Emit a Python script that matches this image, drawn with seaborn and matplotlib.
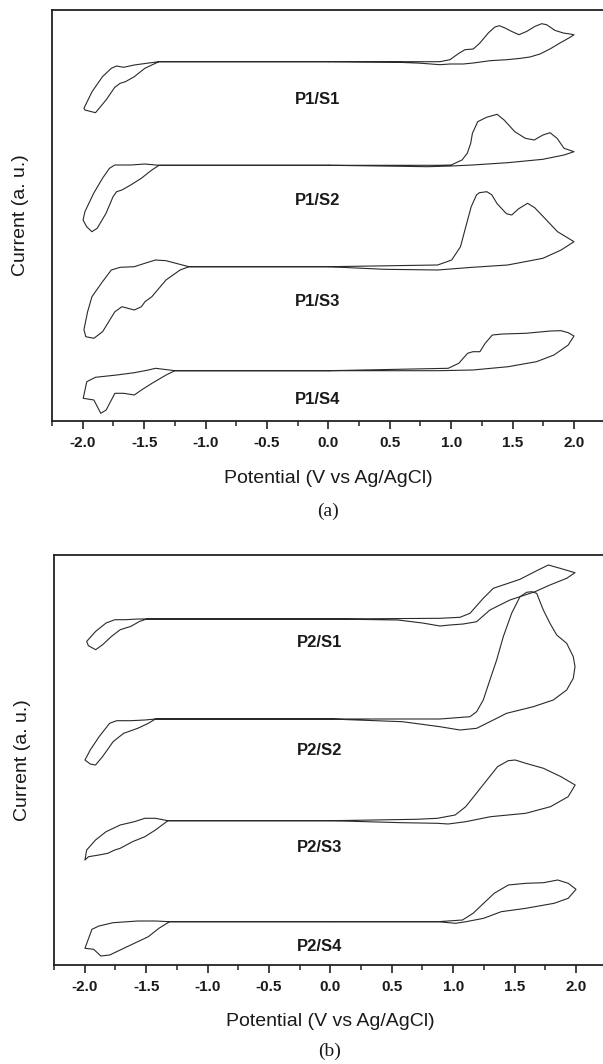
import numpy as np
import pandas as pd
import matplotlib
matplotlib.use("Agg")
import matplotlib.pyplot as plt
import seaborn as sns
from matplotlib.ticker import MultipleLocator

sns.set_theme(style="white")
plt.rcParams['font.family'] = ['Liberation Sans', 'DejaVu Sans']
plt.rcParams['axes.unicode_minus'] = False

# ---------------- data (potential in V, current in a.u. relative to each curve's baseline) ----
tick_values = [-2.0, -1.5, -1.0, -0.5, 0.0, 0.5, 1.0, 1.5, 2.0]
tick_labels = ["-2.0", "-1.5", "-1.0", "-0.5", "0.0", "0.5", "1.0", "1.5", "2.0"]

names_a = ["P1/S1", "P1/S2", "P1/S3", "P1/S4"]
names_b = ["P2/S1", "P2/S2", "P2/S3", "P2/S4"]
offsets_a = [359.3, 255.7, 154.3, 50.3]
offsets_b = [346.0, 246.0, 144.3, 43.3]

# P1/S1
p1s1_an_v = [0.0, 0.908, 0.99, 1.058, 1.112, 1.18, 1.234, 1.302, 1.356, 1.392, 1.438, 1.492, 1.552, 1.615, 1.682, 1.737, 1.777, 1.845, 1.913, 1.967, 2.0]
p1s1_an_i = [0, 0, 2, 8, 12, 12.7, 18.7, 28.7, 34.7, 36, 33.7, 30.3, 27, 30.3, 35.3, 38, 37, 31.3, 28.7, 27.7, 27]
p1s1_ca_v = [1.967, 1.886, 1.804, 1.723, 1.641, 1.56, 1.452, 1.316, 1.18, 1.098, 0.99, 0.908, 0.75, 0.55, 0.0]
p1s1_ca_i = [24.3, 18.7, 12.7, 7.7, 4.7, 3.3, 2, 1, -1.3, -2.3, -2.3, -3, -1.5, -0.5, 0]
p1s1_le_v = [-1.379, -1.48, -1.58, -1.667, -1.724, -1.767, -1.839, -1.924, -1.99, -1.982, -1.896, -1.81, -1.739, -1.695, -1.652, -1.58, -1.494, -1.408, -1.379]
p1s1_le_i = [0, -1.6, -3.3, -5.6, -4.3, -6.6, -15, -30, -46.6, -48.3, -51, -38.3, -25.6, -21.6, -20, -15, -6.6, -1.6, 0]

# P1/S2
p1s2_an_v = [0.0, 0.9, 1.0, 1.088, 1.131, 1.159, 1.173, 1.216, 1.288, 1.374, 1.431, 1.518, 1.604, 1.676, 1.747, 1.805, 1.862, 1.919, 2.0]
p1s2_an_i = [0, 0, 0.3, 5.3, 12, 22, 32, 43.6, 48, 51, 45.3, 33.6, 27, 25.3, 30.3, 32.6, 27, 17, 13.6]
p1s2_ca_v = [1.919, 1.747, 1.46, 1.173, 1.001, 0.804, 0.6, 0.0]
p1s2_ca_i = [10.3, 6, 2.6, 0.3, -0.7, -1.4, -1, 0]
p1s2_le_v = [-1.379, -1.494, -1.609, -1.739, -1.782, -1.839, -1.911, -1.982, -1.997, -1.968, -1.925, -1.882, -1.81, -1.753, -1.724, -1.681, -1.609, -1.523, -1.437, -1.379]
p1s2_le_i = [0, 1.3, 0.3, 0.3, -3, -13, -28, -46.4, -54.7, -61.4, -66.4, -63, -48, -31.4, -26.4, -24.7, -19.7, -13, -4.7, 0]

# P1/S3
p1s3_an_v = [0.0, 0.89, 1.004, 1.076, 1.119, 1.163, 1.206, 1.23, 1.29, 1.33, 1.374, 1.45, 1.493, 1.55, 1.622, 1.68, 1.75, 1.866, 2.0]
p1s3_an_i = [0, 1.7, 6.7, 20, 40, 60, 71.7, 74, 75, 72, 63, 53, 51.7, 58, 63.4, 59, 50, 35, 25]
p1s3_ca_v = [1.895, 1.747, 1.46, 1.173, 0.89, 0.456, 0.0]
p1s3_ca_i = [16.7, 8.4, 1.7, -0.6, -3.3, -2.6, 0]
p1s3_le_v = [-1.135, -1.322, -1.408, -1.494, -1.58, -1.695, -1.767, -1.839, -1.925, -1.96, -1.99, -1.975, -1.909, -1.838, -1.738, -1.68, -1.58, -1.522, -1.493, -1.437, -1.322, -1.207, -1.135]
p1s3_le_i = [0, 6, 6.7, 3.4, 0, -0.6, -3.3, -15, -30, -45, -63, -70, -71.6, -65, -45, -40, -43.3, -40, -35, -30, -13.3, -3.3, 0]

# P1/S4
p1s4_an_v = [0.0, 0.976, 1.062, 1.134, 1.177, 1.234, 1.277, 1.335, 1.421, 1.608, 1.809, 1.895, 1.953, 2.0]
p1s4_an_i = [0, 2.4, 7.4, 17.4, 19, 19, 27.4, 35.7, 36.7, 37.4, 39.7, 40, 38, 34.7]
p1s4_ca_v = [1.953, 1.837, 1.694, 1.464, 1.177, 0.89, 0.0]
p1s4_ca_i = [25.7, 15.7, 9, 4, 0.7, 0, 0]
p1s4_le_v = [-1.25, -1.293, -1.408, -1.465, -1.58, -1.723, -1.896, -1.967, -1.996, -1.909, -1.853, -1.809, -1.738, -1.666, -1.58, -1.522, -1.436, -1.321, -1.25]
p1s4_le_i = [0, 0.7, 2.4, 0.7, -2, -4.3, -6.6, -11, -27.6, -29.3, -42.6, -39.3, -22.6, -22.6, -24.3, -19.3, -12.6, -4.3, 0]

# P2/S1
p2s1_an_v = [0.0, 0.892, 1.055, 1.137, 1.245, 1.327, 1.462, 1.544, 1.68, 1.775, 1.87, 1.992]
p2s1_an_i = [0, 0.7, 1.7, 5.7, 20.7, 30.7, 36.3, 39.7, 48.3, 54, 50.7, 46.3]
p2s1_ca_v = [1.924, 1.788, 1.666, 1.462, 1.299, 1.191, 1.082, 0.974, 0.892, 0.75, 0.55, 0.0]
p2s1_ca_i = [40.7, 34, 27.3, 19, 9, -2.7, -5, -6, -7, -4, -1, 0]
p2s1_le_v = [-1.496, -1.567, -1.668, -1.754, -1.826, -1.911, -1.984, -1.97, -1.911, -1.854, -1.782, -1.711, -1.625, -1.553, -1.496]
p2s1_le_i = [0, 0, -0.7, -0.7, -4, -12.4, -22.4, -26.7, -30.7, -25.7, -17.4, -10.7, -7.4, -2.4, 0]

# P2/S2
p2s2_an_v = [0.0, 0.892, 1.137, 1.191, 1.245, 1.299, 1.354, 1.408, 1.476, 1.544, 1.598, 1.639, 1.68, 1.734, 1.788, 1.843, 1.924, 1.978, 1.992]
p2s2_an_i = [0, 0, 2.3, 7.3, 19, 39, 59, 82.3, 105.7, 122.3, 126.7, 127.3, 125.7, 109, 95.7, 84, 75.7, 62.3, 52.3]
p2s2_ca_v = [1.978, 1.924, 1.815, 1.652, 1.435, 1.327, 1.191, 1.055, 0.892, 0.587, 0.0]
p2s2_ca_i = [40.7, 29, 19, 12.3, 5.7, -1, -9.3, -11, -7.7, -2.7, 0]
p2s2_le_v = [-1.424, -1.51, -1.625, -1.74, -1.797, -1.883, -1.955, -1.998, -1.955, -1.912, -1.855, -1.769, -1.683, -1.568, -1.482, -1.424]
p2s2_le_i = [0, -1, -1.7, -1.7, -4.3, -17.7, -31, -41, -45, -46, -37.7, -22.7, -14.3, -9.3, -4.3, 0]

# P2/S3
p2s3_an_v = [0.0, 0.699, 0.872, 1.016, 1.102, 1.189, 1.275, 1.361, 1.448, 1.505, 1.591, 1.735, 1.878, 1.993]
p2s3_an_i = [0, 1.4, 2.4, 5.7, 14, 27.4, 40.7, 54, 60, 60.7, 57.4, 52.4, 44, 35.7]
p2s3_ca_v = [1.936, 1.792, 1.591, 1.304, 1.102, 0.959, 0.872, 0.585, 0.0]
p2s3_ca_i = [24, 14, 7.4, 4, -1, -3.3, -2.6, -2, 0]
p2s3_le_v = [-1.323, -1.424, -1.51, -1.596, -1.711, -1.826, -1.912, -1.984, -1.998, -1.969, -1.884, -1.812, -1.755, -1.711, -1.611, -1.51, -1.424, -1.323]
p2s3_le_i = [0, 2.4, 2.4, -1, -4.3, -11, -19.3, -29.3, -39.3, -36, -34.3, -32.6, -29.3, -27.6, -21, -16, -9.3, 0]

# P2/S4
p2s4_an_v = [0.0, 0.875, 1.076, 1.162, 1.248, 1.334, 1.449, 1.592, 1.736, 1.851, 1.937, 2.0]
p2s4_an_i = [0, 0, 1.7, 8.4, 18.4, 28.4, 36.7, 38.4, 39, 41.7, 38.4, 32.4]
p2s4_ca_v = [1.937, 1.822, 1.592, 1.391, 1.248, 1.105, 1.019, 0.875, 0.0]
p2s4_ca_i = [23.4, 18.4, 13.4, 10, 3.4, 0, -1.6, 0, 0]
p2s4_le_v = [-1.309, -1.424, -1.568, -1.769, -1.884, -1.941, -1.998, -1.927, -1.869, -1.797, -1.711, -1.596, -1.482, -1.396, -1.309]
p2s4_le_i = [0, 0.7, 0.7, -1, -4.3, -7.6, -26.6, -27.6, -34.3, -33.3, -28.3, -21.6, -15, -6.6, 0]

curves_a = [
    (p1s1_an_v, p1s1_an_i, p1s1_ca_v, p1s1_ca_i, p1s1_le_v, p1s1_le_i),
    (p1s2_an_v, p1s2_an_i, p1s2_ca_v, p1s2_ca_i, p1s2_le_v, p1s2_le_i),
    (p1s3_an_v, p1s3_an_i, p1s3_ca_v, p1s3_ca_i, p1s3_le_v, p1s3_le_i),
    (p1s4_an_v, p1s4_an_i, p1s4_ca_v, p1s4_ca_i, p1s4_le_v, p1s4_le_i),
]
curves_b = [
    (p2s1_an_v, p2s1_an_i, p2s1_ca_v, p2s1_ca_i, p2s1_le_v, p2s1_le_i),
    (p2s2_an_v, p2s2_an_i, p2s2_ca_v, p2s2_ca_i, p2s2_le_v, p2s2_le_i),
    (p2s3_an_v, p2s3_an_i, p2s3_ca_v, p2s3_ca_i, p2s3_le_v, p2s3_le_i),
    (p2s4_an_v, p2s4_an_i, p2s4_ca_v, p2s4_ca_i, p2s4_le_v, p2s4_le_i),
]

# ---------------- layout ----------------
W, H = 603, 1064
fig = plt.figure(figsize=(W / 100, H / 100), dpi=100)
fig.patch.set_facecolor("white")

ax_a = fig.add_axes([52 / W, 1 - 421 / H, 552.7 / W, 411 / H])
ax_b = fig.add_axes([54 / W, 1 - 965 / H, 552.7 / W, 410 / H])

label_y_a = [322, 220.3, 119, 21]
label_y_b = [322.3, 214.3, 117, 18.3]


def draw_panel(ax, curves, offsets, names, label_ys, ymax):
    for (an_v, an_i, ca_v, ca_i, le_v, le_i), off, name, ly in zip(curves, offsets, names, label_ys):
        v = list(an_v) + list(ca_v) + [0.0] + list(le_v) + [0.0]
        cur = list(an_i) + list(ca_i) + [0.0] + list(le_i) + [0.0]
        df = pd.DataFrame({"Potential": v, "Current": np.array(cur, dtype=float) + off})
        sns.lineplot(data=df, x="Potential", y="Current", sort=False, estimator=None,
                     color="#2a2a2a", lw=0.8, ax=ax)
        ax.text(-0.085, ly, name, ha="center", va="center", fontsize=12,
                fontweight="bold", color="#1a1a1a")
    ax.set_xlim(-2.25, 2.25)
    ax.set_ylim(0, ymax)
    ax.set_yticks([])
    ax.set_xticks(tick_values)
    ax.set_xticklabels(tick_labels, fontweight="bold", fontsize=11, color="#1a1a1a")
    ax.xaxis.set_minor_locator(MultipleLocator(0.25))
    ax.tick_params(axis="x", which="major", direction="out", length=6, width=1.2,
                   bottom=True, pad=5, color="#222222")
    ax.tick_params(axis="x", which="minor", direction="out", length=3.5, width=1.1,
                   bottom=True, color="#222222")
    for side in ["left", "top", "bottom"]:
        ax.spines[side].set_visible(True)
        ax.spines[side].set_linewidth(1.3)
        ax.spines[side].set_color("#222222")
    ax.spines["right"].set_visible(False)
    ax.set_xlabel("Potential (V vs Ag/AgCl)", fontsize=14, color="#1a1a1a", va="center")
    ax.xaxis.set_label_coords(0.5, -0.139)
    ax.set_ylabel("Current (a. u.)", fontsize=14, color="#1a1a1a", va="center")
    ax.yaxis.set_label_coords(-31 / 552.7, 0.5)
    ax.set_facecolor("white")
    ax.grid(False)


draw_panel(ax_a, curves_a, offsets_a, names_a, label_y_a, 411)
draw_panel(ax_b, curves_b, offsets_b, names_b, label_y_b, 410)

fig.text(328 / W, 1 - 511.7 / H, "(a)", ha="center", va="center", fontsize=14,
         family=["Liberation Serif", "DejaVu Serif"], color="#1a1a1a")
fig.text(330 / W, 1 - 1051 / H, "(b)", ha="center", va="center", fontsize=14,
         family=["Liberation Serif", "DejaVu Serif"], color="#1a1a1a")

fig.savefig("out.png", dpi=100, facecolor="white")
